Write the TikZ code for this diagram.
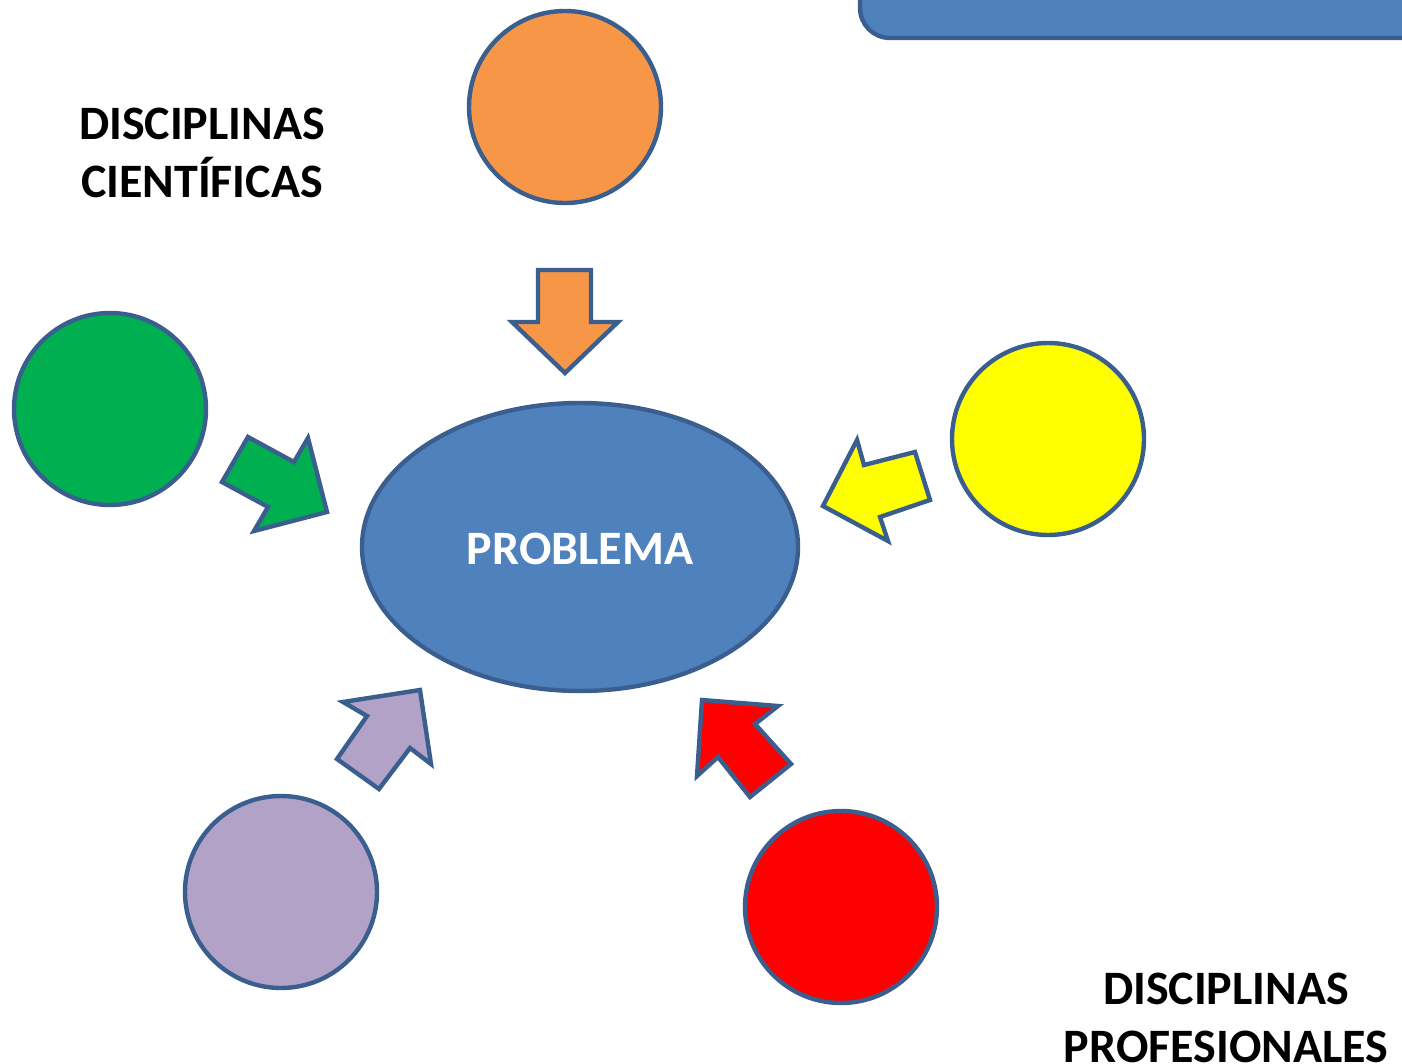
\documentclass[tikz,border=0pt]{standalone}
\usepackage{fontspec}
\setmainfont{Carlito}
\usetikzlibrary{shapes.geometric}
\definecolor{edgeblue}{HTML}{3A5F8F}
\definecolor{fillblue}{HTML}{4F81BD}
\definecolor{orangefill}{HTML}{F79646}
\definecolor{greenfill}{HTML}{00B050}
\definecolor{yellowfill}{HTML}{FFFF00}
\definecolor{purplefill}{HTML}{B2A2C7}
\definecolor{redfill}{HTML}{FF0000}
\tikzset{
  disc/.style={circle, draw=edgeblue, line width=2.2pt, minimum size=96pt, inner sep=0pt},
  blockarrow/.style={draw=edgeblue, line width=2.2pt, line join=miter},
  label/.style={font=\bfseries\fontsize{24}{29}\selectfont, align=center}
}
\begin{document}
\begin{tikzpicture}[x=0.5pt, y=-0.5pt]
    \useasboundingbox (0,0) rectangle (1402,1064);

    % box in the corner
    \draw[fill=fillblue, draw=edgeblue, line width=2.2pt, rounded corners=15pt]
        (1450,-60) -- (860,-60) -- (860,38) -- (1450,38);

    % the problem
    \node[ellipse, draw=edgeblue, fill=fillblue, line width=2.2pt,
          minimum width=218pt, minimum height=144pt, inner sep=0pt] (problema) at (580,547) {};
    \node[font=\bfseries\fontsize{24}{29}\selectfont, text=white] (problematxt) at (580,549) {PROBLEMA};

    % disciplines
    \node[disc, fill=orangefill] (top) at (565,107) {};
    \node[disc, fill=greenfill] (left) at (110,409) {};
    \node[disc, fill=yellowfill] (right) at (1048,439) {};
    \node[disc, fill=purplefill] (botleft) at (281,892) {};
    \node[disc, fill=redfill] (botright) at (841,907) {};

    % arrows into the problem
    \draw[blockarrow, fill=orangefill] (538,270) -- (591,270) -- (591,322) -- (618,322)
        -- (565,373) -- (512,322) -- (538,322) -- cycle;
    \draw[blockarrow, fill=greenfill] (248,437) -- (294,462) -- (308,438) -- (327,512)
        -- (254,531) -- (268,507) -- (222,482) -- cycle;
    \draw[blockarrow, fill=yellowfill] (823,506) -- (857,440) -- (864,465) -- (915,452)
        -- (930,500) -- (880,517) -- (888,541) -- cycle;
    \draw[blockarrow, fill=purplefill] (343,702) -- (420,690) -- (431,764) -- (410,748)
        -- (379,789) -- (337,759) -- (367,716) -- cycle;
    \draw[blockarrow, fill=redfill] (702,700) -- (778,706) -- (755,724) -- (791,764)
        -- (750,797) -- (718,757) -- (697,776) -- cycle;

    % labels
    \node[label] (cientificas) at (202,153) {DISCIPLINAS\\CIENTÍFICAS};
    \node[label] (profesionales) at (1226,1018) {DISCIPLINAS\\PROFESIONALES};
\end{tikzpicture}
\end{document}
